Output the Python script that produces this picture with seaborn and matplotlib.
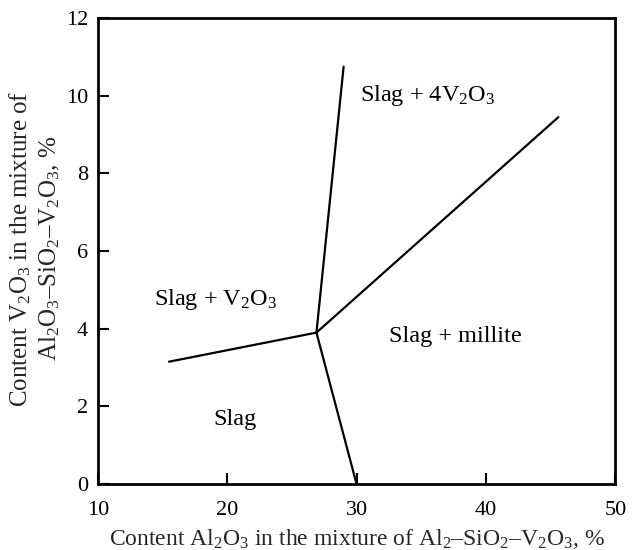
import matplotlib
matplotlib.use("Agg")
import matplotlib.pyplot as plt
import seaborn as sns
import pandas as pd

# Data: phase boundary segments radiating from the junction point
junction = (26.9, 3.9)
seg_names = ["left", "top", "right", "bottom"]
end_x = [15.5, 29.0, 45.6, 30.0]
end_y = [3.15, 10.75, 9.45, 0.0]

region_labels = ["Slag + 4V$_2$O$_3$", "Slag + V$_2$O$_3$", "Slag + millite", "Slag"]
label_x = [35.5, 19.1, 37.6, 20.6]
label_y = [10.0, 4.75, 3.8, 1.65]

x_ticks = [10, 20, 30, 40, 50]
y_ticks = [0, 2, 4, 6, 8, 10, 12]

rows = []
for n, ex, ey in zip(seg_names, end_x, end_y):
    rows.append({"seg": n, "order": 0, "x": junction[0], "y": junction[1]})
    rows.append({"seg": n, "order": 1, "x": ex, "y": ey})
df = pd.DataFrame(rows)

sns.set_theme(style="ticks")
plt.rcParams["font.family"] = ["Liberation Serif", "DejaVu Serif"]
plt.rcParams["mathtext.fontset"] = "custom"
plt.rcParams["mathtext.rm"] = "Liberation Serif"
plt.rcParams["mathtext.it"] = "Liberation Serif:italic"

fig = plt.figure(figsize=(6.35, 5.5), dpi=100)
ax = fig.add_axes([0.154, 0.12, 0.815, 0.847])

sns.lineplot(data=df, x="x", y="y", units="seg", estimator=None, sort=False,
             color="black", linewidth=1.6, ax=ax)

for t, lx, ly in zip(region_labels, label_x, label_y):
    ax.text(lx, ly, t, ha="center", va="center", fontsize=17.5, color="black")

ax.set_xlim(10, 50)
ax.set_ylim(0, 12)
ax.set_xticks(x_ticks)
ax.set_yticks(y_ticks)
ax.tick_params(direction="in", length=8, width=1.5, labelsize=16, colors="black")
ax.tick_params(axis="x", pad=12)
ax.tick_params(axis="y", pad=7)
for s in ax.spines.values():
    s.set_linewidth(2)
    s.set_color("black")

ax.set_xlabel("Content Al$_2$O$_3$ in the mixture of Al$_2$–SiO$_2$–V$_2$O$_3$, $\\mathit{\\%}$",
              fontsize=17)
ax.set_ylabel("Content V$_2$O$_3$ in the mixture of\nAl$_2$O$_3$–SiO$_2$–V$_2$O$_3$, $\\mathit{\\%}$",
              fontsize=18, linespacing=1.25)
ax.xaxis.set_label_coords(0.5, -0.118)
ax.yaxis.set_label_coords(-0.122, 0.505)
ax.yaxis.label.set_va("center")
ax.xaxis.label.set_va("center")

fig.savefig("out.png", dpi=100)
